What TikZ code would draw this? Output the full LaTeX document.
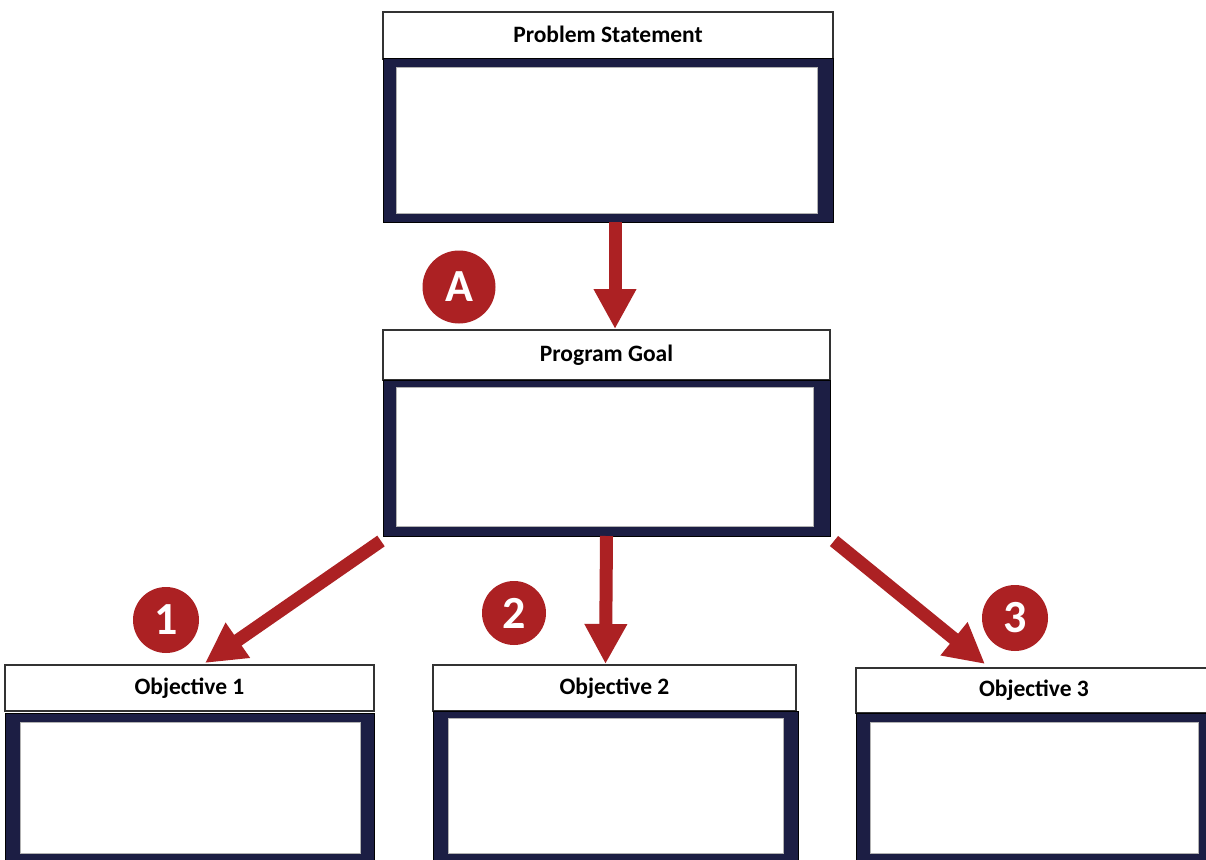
\documentclass[tikz,border=0pt]{standalone}
\usepackage{fontspec}
\setmainfont{Carlito}
\usetikzlibrary{arrows.meta,calc}
\definecolor{navy}{RGB}{28,30,68}
\definecolor{brickred}{RGB}{172,33,35}
\begin{document}
\begin{tikzpicture}[x=1pt,y=-1pt,
  hdr/.style={draw=black!80,line width=1.1pt,fill=white,anchor=north west,inner sep=0pt,outer sep=0pt,
    font=\fontsize{23.5}{27}\selectfont\bfseries},
  body/.style={draw=black,line width=1pt,fill=navy,anchor=north west,inner sep=0pt,outer sep=0pt},
  inner/.style={draw=black!30,line width=0.8pt,fill=white,anchor=north west,inner sep=0pt,outer sep=0pt},
  flow/.style={draw=brickred,line width=13pt,-{Triangle[width=40pt,length=40pt]}},
  badge/.style={circle,fill=brickred,text=white,inner sep=0pt,font=\fontsize{46}{46}\selectfont\bfseries}
]
\clip (0,0) rectangle (1206,859);
\fill[white] (0,0) rectangle (1206,859);

% Problem Statement
\node[hdr,minimum width=450pt,minimum height=47pt] (psh) at (383,12) {\raisebox{3pt}{Problem Statement}};
\node[body,minimum width=450pt,minimum height=163pt] (psb) at (383,59) {};
\node[inner,minimum width=421pt,minimum height=146pt] (psi) at (396,67) {};

% Program Goal
\node[hdr,minimum width=447pt,minimum height=50pt] (pgh) at (383,330) {\raisebox{1pt}{Program Goal}};
\node[body,minimum width=447pt,minimum height=156pt] (pgb) at (383,380) {};
\node[inner,minimum width=417pt,minimum height=139pt] (pgi) at (396,387) {};

% Objective 1
\node[hdr,minimum width=369pt,minimum height=46pt] (o1h) at (5,665) {Objective 1};
\node[body,minimum width=369pt,minimum height=160pt] (o1b) at (5,713) {};
\node[inner,minimum width=340pt,minimum height=131pt] (o1i) at (20,722) {};

% Objective 2
\node[hdr,minimum width=363pt,minimum height=46pt] (o2h) at (433,665) {Objective 2};
\node[body,minimum width=365pt,minimum height=160pt] (o2b) at (433,711) {};
\node[inner,minimum width=335pt,minimum height=135pt] (o2i) at (448,718) {};

% Objective 3
\node[hdr,minimum width=360pt,minimum height=45pt] (o3h) at (856,668) {\hspace*{-4pt}Objective 3};
\node[body,minimum width=360pt,minimum height=160pt] (o3b) at (856,713) {};
\node[inner,minimum width=328pt,minimum height=131pt] (o3i) at (870,722) {};

% Arrows
\draw[flow] ($(psb.south)+(7,0)$) -- ($(pgh.north)+(8.5,-1)$);
\draw[flow] ($(pgb.south west)+(-2,5)$) -- ($(o1h.north)+(15.5,-2)$);
\draw[flow] (pgb.south) -- ($(pgb.south |- o2h.north)+(-1,-1)$);
\draw[flow] ($(pgb.south east)+(4,5)$) -- ($(o3h.north)+(-51,-4)$);

% Badges
\node[badge,minimum size=73pt] (ba) at (459,287) {A};
\node[badge,minimum size=66pt] (b1) at (166,620) {1};
\node[badge,minimum size=64pt] (b2) at (514,613) {2};
\node[badge,minimum size=66pt] (b3) at (1015,618) {3};
\end{tikzpicture}
\end{document}
